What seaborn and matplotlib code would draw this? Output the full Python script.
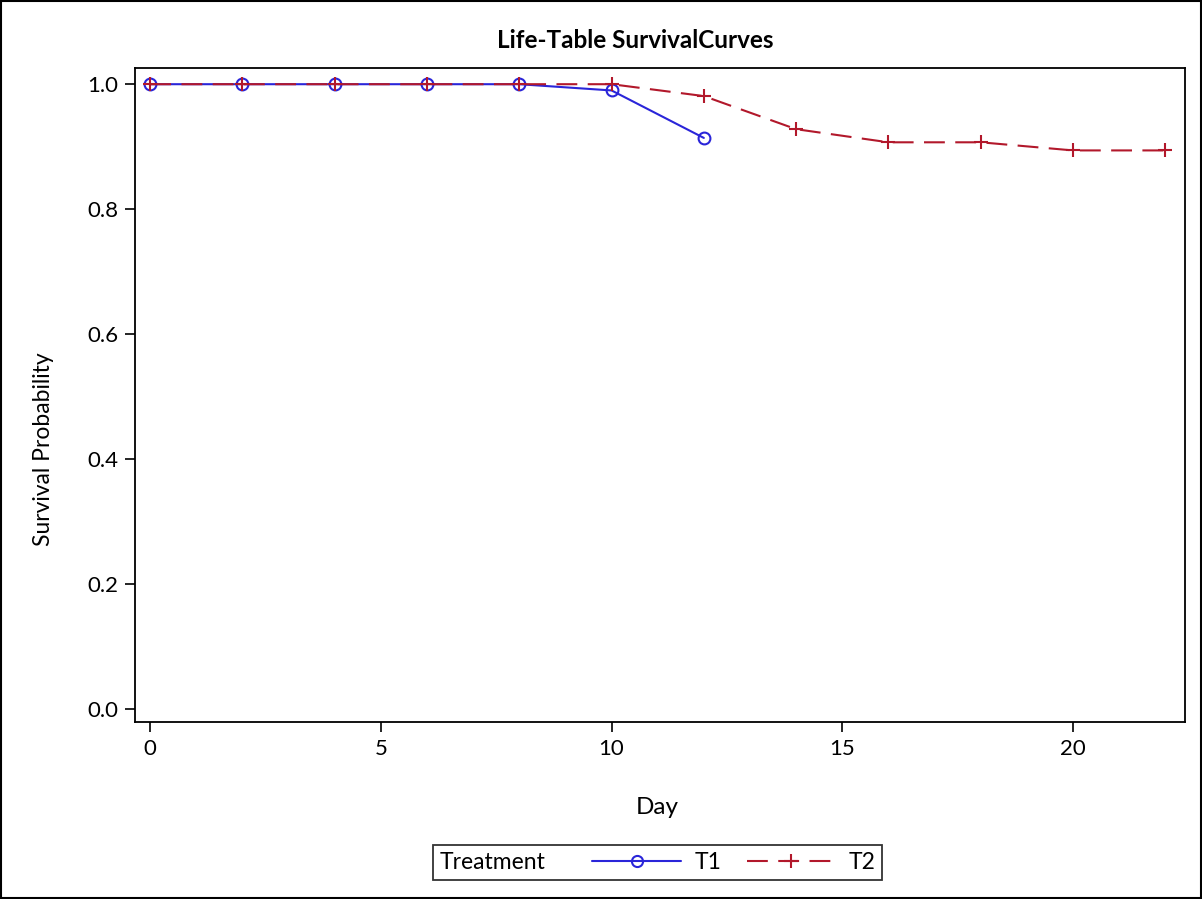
import matplotlib
matplotlib.use("Agg")
import matplotlib.pyplot as plt
from matplotlib.lines import Line2D
from matplotlib.patches import Rectangle
from matplotlib.offsetbox import HPacker
import seaborn as sns
import pandas as pd

# Life-table survival estimates by treatment group
t1_day = [0, 2, 4, 6, 8, 10, 12]
t1_surv = [1.0, 1.0, 1.0, 1.0, 1.0, 0.990, 0.914]
t2_day = [0, 2, 4, 6, 8, 10, 12, 14, 16, 18, 20, 22]
t2_surv = [1.0, 1.0, 1.0, 1.0, 1.0, 1.0, 0.981, 0.928, 0.907, 0.907, 0.894, 0.894]
groups = ["T1", "T2"]
x_ticks = [0, 5, 10, 15, 20]
y_ticks = [0.0, 0.2, 0.4, 0.6, 0.8, 1.0]

df1 = pd.DataFrame({"Day": t1_day, "Survival": t1_surv, "Treatment": groups[0]})
df2 = pd.DataFrame({"Day": t2_day, "Survival": t2_surv, "Treatment": groups[1]})

sns.set_style("ticks")
plt.rcParams["font.family"] = ["Lato", "DejaVu Sans"]
plt.rcParams["text.color"] = "black"
plt.rcParams["axes.labelcolor"] = "black"

BLUE = "#2A25D9"
RED = "#B2182B"
dash_t2 = (10, 5)

fig = plt.figure(figsize=(12.02, 8.99), dpi=100)
ax = fig.add_axes([0.1123, 0.1969, 0.8736, 0.7275])

sns.lineplot(data=df1, x="Day", y="Survival", color=BLUE, marker="o",
             linewidth=1.5, markersize=8.5, legend=False, ax=ax, sort=False)
sns.lineplot(data=df2, x="Day", y="Survival", color=RED, marker="+",
             linewidth=1.5, markersize=10, legend=False, ax=ax, sort=False)
ax.lines[1].set_dashes(dash_t2)

for line in ax.lines:
    c = line.get_color()
    line.set_markeredgecolor(c)
    line.set_markerfacecolor("none")
    line.set_markeredgewidth(1.5)

ax.set_xlim(-0.33, 22.43)
ax.set_ylim(-0.021, 1.026)
ax.set_xticks(x_ticks)
ax.set_yticks(y_ticks)
ax.set_yticklabels([f"{v:.1f}" for v in y_ticks])
ax.tick_params(axis="both", labelsize=16, length=7, width=1.2, direction="out",
               colors="black", pad=5)
for s in ax.spines.values():
    s.set_visible(True)
    s.set_linewidth(1.3)
    s.set_color("black")
ax.set_xlabel("")
ax.set_ylabel("")

fig.text(635 / 1202, 1 - 40 / 899, "Life-Table SurvivalCurves", ha="center", va="center",
         fontsize=17.5, fontweight="bold")
fig.text(657 / 1202, 1 - 808 / 899, "Day", ha="center", va="center", fontsize=17.5)
fig.text(44 / 1202, 0.5, "Survival Probability", ha="center", va="center",
         rotation=90, fontsize=16.5)

handles = [
    Line2D([], [], color=BLUE, marker="o", markersize=8, markerfacecolor="none",
           markeredgecolor=BLUE, markeredgewidth=1.5, linewidth=1.5),
    Line2D([], [], color=RED, marker="+", markersize=10, markeredgecolor=RED,
           markeredgewidth=1.5, linewidth=1.5, dashes=dash_t2),
]
leg = fig.legend(handles, groups, ncol=2, loc="center", title="Treatment",
                 title_fontsize=16.5, bbox_to_anchor=(657.5 / 1202, 1 - 862.5 / 899),
                 frameon=True, fontsize=16.5, handlelength=3.85, handletextpad=0.6,
                 columnspacing=1.1, fancybox=False, borderpad=0.3)
leg.get_frame().set_edgecolor("black")
leg.get_frame().set_linewidth(1.3)
# place the legend title to the left of the entries, on one row
row = HPacker(pad=leg.borderpad * leg._fontsize, sep=47 * 72 / 100, align="center",
              children=[leg._legend_title_box, leg._legend_handle_box])
row.set_figure(fig)
row.axes = leg.axes
row.set_offset(leg._findoffset)
leg._legend_box = row

fig.patches.append(Rectangle((0.001, 0.001), 0.998, 0.998, transform=fig.transFigure,
                             fill=False, edgecolor="black", linewidth=1.5))

fig.savefig("out.png", dpi=100)
